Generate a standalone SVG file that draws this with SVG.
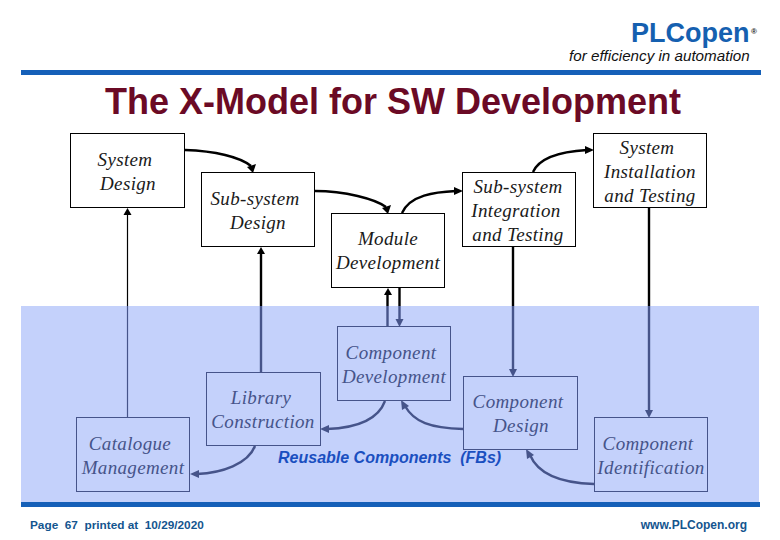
<svg xmlns="http://www.w3.org/2000/svg" width="780" height="540" viewBox="0 0 780 540">
<style>
.b{fill:none;stroke:#000;stroke-width:1}
.n{font:italic 19px "Liberation Serif","DejaVu Serif",serif;letter-spacing:.35px;fill:#1a1a1a;text-anchor:middle}
.d .b{stroke:#46548a}.d .n{fill:#46548a}
.f{font-family:"Liberation Sans",Arial,sans-serif;font-weight:bold;fill:#14558f;font-size:11.8px}
.k{fill:none;stroke:#000;stroke-width:2.4}
.l{fill:none;stroke:#46548a;stroke-width:2.4}
.ka{fill:#000}.la{fill:#46548a}
</style>
<rect width="780" height="540" fill="#fff"/>
<rect x="21" y="306" width="738" height="197" fill="#c4d1fb"/>
<rect x="21" y="502" width="739" height="5" fill="#1560b8"/>
<rect x="21" y="70" width="740" height="5" fill="#1560b8"/>
<text x="631" y="41.500" font-family="Liberation Sans,Arial,sans-serif" font-weight="bold" font-size="27" fill="#1560b0">PLCopen</text>
<text x="751" y="34" font-family="Liberation Sans,Arial,sans-serif" font-weight="bold" font-size="8" fill="#222">®</text>
<text x="569" y="61" font-family="Liberation Sans,Arial,sans-serif" font-style="italic" font-size="15.200" fill="#111">for efficiency in automation</text>
<text x="105" y="114" font-family="Liberation Sans,Arial,sans-serif" font-weight="bold" font-size="36" fill="#6b0a25">The X-Model for SW Development</text>

<g id="connectors">
<path class="k" d="M185 150C215 151 240 157 251 166"/><path class="ka" d="M253 173l-6-6 9-3z"/>
<path class="k" d="M315 191C345 191 375 199 386 207"/><path class="ka" d="M388 214l-6-6 9-3z"/>
<path class="k" d="M402 213C410 195 435 192 456 191"/><path class="ka" d="M463 191l-9-4v8z"/>
<path class="k" d="M533 172C541 154 570 151 587 150"/><path class="ka" d="M594 150l-9-4v8z"/>
<path fill="none" stroke="#000" stroke-width="1.200" d="M127.500 306V214"/><path fill="none" stroke="#46548a" stroke-width="1.200" d="M127.500 417V306"/><path class="ka" d="M127.500 208l-4 7h8z"/>
<path class="k" d="M261 306V253"/><path class="l" d="M261 372V306"/><path class="ka" d="M261 247l-4 7h8z"/>
<path class="k" d="M387.500 306V294"/><path class="l" d="M387.500 326V306"/><path class="ka" d="M388 288l-4 7h8z"/>
<path class="k" d="M399.500 288V306"/><path class="l" d="M399.500 306V320"/><path class="la" d="M399.500 327l-4-8h8z"/>
<path class="k" d="M513 246V306"/><path class="l" d="M513 306V370"/><path class="la" d="M513 377l-4-8h8z"/>
<path class="k" d="M649 208V306"/><path class="l" d="M649 306V411"/><path class="la" d="M649 418l-4-8h8z"/>
<path class="l" d="M255 446C248 464 222 473 197 474"/><path class="la" d="M190 474l9-4v8z"/>
<path class="l" d="M385 401C378 420 355 428 327 429"/><path class="la" d="M320 429l9-4v8z"/>
<path class="l" d="M463 429C430 428 414 422 405 406"/><path class="la" d="M401 400l1 10 7-4z"/>
<path class="l" d="M594 484C560 483 538 474 530 455"/><path class="la" d="M526 449l1 10 7-4z"/>
</g>

<g id="system-design"><rect class="b" x="70.500" y="133.500" width="114" height="74"/><text class="n" x="125" y="166">System</text><text class="n" x="128" y="190">Design</text></g>
<g id="sub-system-design"><rect class="b" x="201.500" y="172.500" width="113" height="74"/><text class="n" x="255" y="205">Sub-system</text><text class="n" x="258" y="229">Design</text></g>
<g id="module-development"><rect class="b" x="331.500" y="213.500" width="113" height="74"/><text class="n" x="388" y="245">Module</text><text class="n" x="388" y="269">Development</text></g>
<g id="sub-system-integration"><rect class="b" x="462.500" y="172.500" width="113" height="74"/><text class="n" x="518" y="193">Sub-system</text><text class="n" x="516" y="217">Integration</text><text class="n" x="518" y="241">and Testing</text></g>
<g id="system-installation"><rect class="b" x="593.500" y="133.500" width="113" height="74"/><text class="n" x="647" y="154">System</text><text class="n" x="650" y="178">Installation</text><text class="n" x="650" y="202">and Testing</text></g>
<g id="component-development" class="d"><rect class="b" x="337.500" y="326.500" width="113" height="74"/><text class="n" x="391" y="359">Component</text><text class="n" x="394" y="383">Development</text></g>
<g id="library-construction" class="d"><rect class="b" x="206.500" y="372.500" width="114" height="73"/><text class="n" x="261" y="404">Library</text><text class="n" x="263" y="428">Construction</text></g>
<g id="component-design" class="d"><rect class="b" x="463.500" y="376.500" width="114" height="73"/><text class="n" x="518" y="408">Component</text><text class="n" x="521" y="432">Design</text></g>
<g id="catalogue-management" class="d"><rect class="b" x="76.500" y="417.500" width="113" height="74"/><text class="n" x="130" y="450">Catalogue</text><text class="n" x="133" y="474">Management</text></g>
<g id="component-identification" class="d"><rect class="b" x="594.500" y="417.500" width="113" height="74"/><text class="n" x="648" y="450">Component</text><text class="n" x="651" y="474">Identification</text></g>

<text x="278" y="463" font-family="Liberation Sans,Arial,sans-serif" font-weight="bold" font-style="italic" font-size="16" fill="#1a4fc0" xml:space="preserve">Reusable Components  (FBs)</text>
<text x="30" y="529" class="f" xml:space="preserve">Page  67  printed at  10/29/2020</text>
<text x="747" y="529" class="f" style="font-size:12px" text-anchor="end">www.PLCopen.org</text>
</svg>
